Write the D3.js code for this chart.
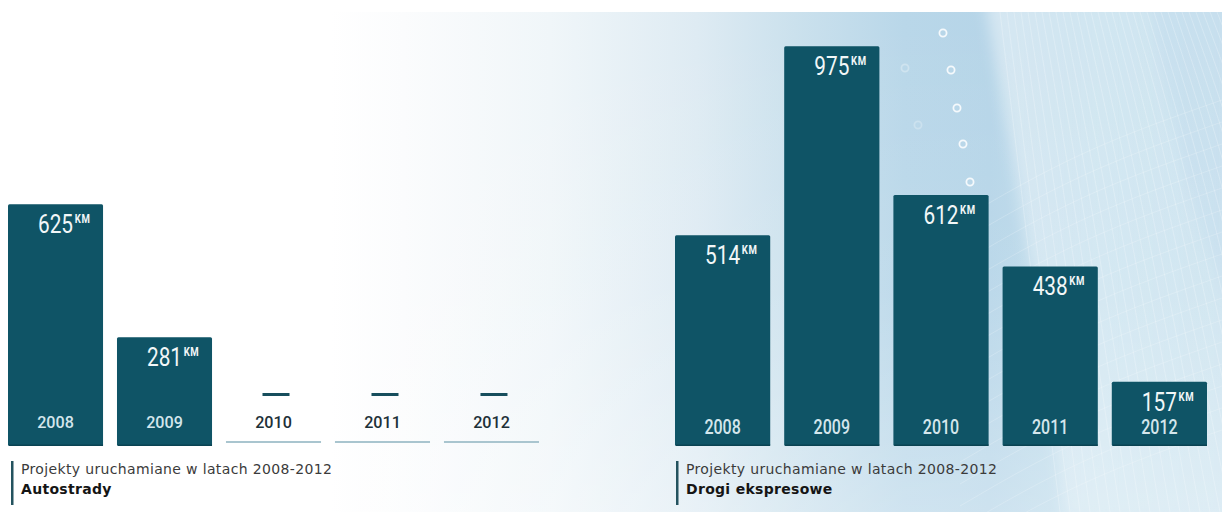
<!DOCTYPE html>
<html>
<head>
<meta charset="utf-8">
<script src="https://cdn.jsdelivr.net/npm/d3@7"></script>
<style>
  html, body { margin: 0; padding: 0; background: #ffffff; }
  svg { display: block; }
</style>
</head>
<body>
<svg id="chart" width="1222" height="512"></svg>
<script>
// Road projects launched 2008-2012, kilometres per year
const years = ["2008", "2009", "2010", "2011", "2012"];
const autostradyKm = [625, 281, null, null, null];
const drogiEkspresoweKm = [514, 975, 612, 438, 157];
const captionText = "Projekty uruchamiane w latach 2008-2012";
const panelTitles = ["Autostrady", "Drogi ekspresowe"];
const unitLabel = "KM";

const W = 1222, H = 512;
const svg = d3.select("#chart");
const defs = svg.append("defs");

// ---- background ----
const bgGrad = defs.append("linearGradient").attr("id", "bgGrad")
  .attr("x1", 0).attr("x2", 1).attr("y1", 0).attr("y2", 0);
[["0%", "#ffffff"], ["27%", "#ffffff"], ["33%", "#fbfcfd"], ["45%", "#f0f6f9"],
 ["57%", "#deebf3"], ["65%", "#cbe1ed"], ["74%", "#b9d7e9"], ["81%", "#b6d5e8"],
 ["90%", "#c3dfed"], ["100%", "#c8e1ee"]]
  .forEach(([o, c]) => bgGrad.append("stop").attr("offset", o).attr("stop-color", c));

const fadeGrad = defs.append("linearGradient").attr("id", "fadeGrad")
  .attr("x1", 0).attr("x2", 0).attr("y1", 0).attr("y2", 1);
[["0%", 0], ["55%", 0.08], ["100%", 0.32]]
  .forEach(([o, a]) => fadeGrad.append("stop").attr("offset", o)
    .attr("stop-color", "#ffffff").attr("stop-opacity", a));

const bandGrad = defs.append("linearGradient").attr("id", "bandGrad")
  .attr("x1", 0).attr("x2", 1).attr("y1", 0).attr("y2", 0);
[["0%", 0.45], ["40%", 0.25], ["100%", 0.1]]
  .forEach(([o, a]) => bandGrad.append("stop").attr("offset", o)
    .attr("stop-color", "#ffffff").attr("stop-opacity", a));

defs.append("filter").attr("id", "soft").attr("x", "-20%").attr("y", "-20%")
  .attr("width", "140%").attr("height", "140%")
  .append("feGaussianBlur").attr("stdDeviation", 7);

svg.append("rect").attr("width", W).attr("height", H).attr("fill", "#ffffff");
svg.append("rect").attr("y", 12).attr("width", W).attr("height", H - 12).attr("fill", "url(#bgGrad)");

// wireframe ornament on the right
const deco = svg.append("g").attr("fill", "none").attr("stroke", "#ffffff");
const curve = d3.line().curve(d3.curveBasis);
deco.append("path")
  .attr("d", "M985,0 C1010,150 1040,300 1065,520 L1230,520 L1230,0 Z")
  .attr("fill", "url(#bandGrad)").attr("stroke", "none").attr("filter", "url(#soft)");
deco.append("path")
  .attr("d", "M1150,0 C1170,120 1190,220 1230,300 L1230,0 Z")
  .attr("fill", "#b9d8ea").attr("fill-opacity", 0.35).attr("stroke", "none")
  .attr("filter", "url(#soft)");
for (let i = 0; i < 34; i++) {
  const x0 = 1000 + i * 7;
  deco.append("path")
    .attr("d", curve([[x0, 12], [x0 + 20 + i * 1.5, 180], [x0 + 60 + i * 3, 512]]))
    .attr("stroke-opacity", 0.3).attr("stroke-width", 0.8);
}
for (let j = 0; j < 16; j++) {
  const y0 = 140 + j * 22;
  deco.append("path")
    .attr("d", curve([[960, y0 + 80], [1080, y0 + 10], [1222, y0 - 40]]))
    .attr("stroke-opacity", 0.25).attr("stroke-width", 0.8);
}
svg.append("rect").attr("y", 12).attr("width", W).attr("height", H - 12).attr("fill", "url(#fadeGrad)");
svg.append("rect").attr("width", W).attr("height", 12).attr("fill", "#ffffff");

// small ring ornaments
const rings = [[943, 33, 0.85], [951, 70, 0.85], [957, 108, 0.85], [963, 144, 0.85],
               [970, 182, 0.85], [905, 68, 0.3], [918, 125, 0.25]];
svg.append("g").selectAll("circle").data(rings).join("circle")
  .attr("cx", d => d[0]).attr("cy", d => d[1]).attr("r", 3.6)
  .attr("fill", "none").attr("stroke", "#ffffff").attr("stroke-width", 1.8)
  .attr("stroke-opacity", d => d[2]);

// ---- panels ----
const baseY = 446;
const panels = [
  { values: autostradyKm, title: panelTitles[0], x0: 8, x1: 539, pxPerKm: 0.387,
    yearSize: 17, yearScale: 0.95, yearY: 428, ruleX: 11 },
  { values: drogiEkspresoweKm, title: panelTitles[1], x0: 675, x1: 1207, pxPerKm: 0.41,
    yearSize: 20, yearScale: 0.8, yearY: 434, ruleX: 676 }
];

const barColor = "#0f5466";
const labelFont = "Roboto, 'DejaVu Sans', sans-serif";
const captionFont = "'DejaVu Sans', Verdana, sans-serif";

panels.forEach(p => {
  const x = d3.scaleBand().domain(years).range([p.x0, p.x1]).paddingInner(0.128).paddingOuter(0);
  const y = d3.scaleLinear().domain([0, 1000]).range([baseY, baseY - 1000 * p.pxPerKm]);
  const rows = years.map((yr, i) => ({ year: yr, km: p.values[i] }));
  const g = svg.append("g");

  const filled = rows.filter(d => d.km != null);
  const empty = rows.filter(d => d.km == null);

  // bars
  g.selectAll("rect.bar").data(filled).join("rect").attr("class", "bar")
    .attr("x", d => x(d.year)).attr("width", x.bandwidth())
    .attr("y", d => y(d.km)).attr("height", d => y(0) - y(d.km))
    .attr("rx", 1.5).attr("fill", barColor);
  // darker bottom edge
  g.selectAll("rect.edge").data(filled).join("rect").attr("class", "edge")
    .attr("x", d => x(d.year) + 1).attr("width", x.bandwidth() - 1)
    .attr("y", y(0) - 1.5).attr("height", 1.5).attr("fill", "#0a4352");

  // value labels: number centred on the bar, unit as superscript after it
  filled.forEach(d => {
    const cx = x(d.year) + x.bandwidth() / 2;
    const lg = g.append("g")
      .attr("transform", `translate(${cx},${y(d.km) + 29}) scale(0.8,1)`);
    const num = lg.append("text").text(d.km)
      .attr("text-anchor", "middle").attr("font-family", labelFont)
      .attr("font-size", 26).attr("fill", "#f2f7f8");
    const w = num.node().getComputedTextLength();
    lg.append("text").text(unitLabel)
      .attr("x", w / 2 + 2).attr("y", -10)
      .attr("font-family", labelFont).attr("font-weight", 700)
      .attr("font-size", 12).attr("letter-spacing", 0.8).attr("fill", "#f2f7f8");
  });

  // empty years: dash marker and baseline
  g.selectAll("rect.dash").data(empty).join("rect").attr("class", "dash")
    .attr("x", d => x(d.year) + x.bandwidth() / 2 - 11).attr("width", 27)
    .attr("y", 393).attr("height", 3).attr("fill", "#174e5d");
  g.selectAll("line.base").data(empty).join("line").attr("class", "base")
    .attr("x1", d => x(d.year)).attr("x2", d => x(d.year) + x.bandwidth())
    .attr("y1", 442).attr("y2", 442)
    .attr("stroke", "#a9c5cf").attr("stroke-width", 2);

  // year labels
  rows.forEach(d => {
    const cx = x(d.year) + x.bandwidth() / 2;
    g.append("g").attr("transform", `translate(${cx},${p.yearY}) scale(${p.yearScale},1)`)
      .append("text").text(d.year)
      .attr("text-anchor", "middle").attr("font-family", labelFont)
      .attr("font-size", p.yearSize).attr("font-weight", 500)
      .attr("fill", d.km != null ? "#d4e6ec" : "#1d3038");
  });

  // caption
  g.append("rect").attr("x", p.ruleX).attr("y", 461).attr("width", 2.5).attr("height", 44)
    .attr("fill", "#24535f");
  g.append("text").text(captionText)
    .attr("x", p.ruleX + 10).attr("y", 474)
    .attr("font-family", captionFont).attr("font-size", 14)
    .attr("letter-spacing", 0.35).attr("fill", "#3b3b3b");
  g.append("text").text(p.title)
    .attr("x", p.ruleX + 10).attr("y", 494)
    .attr("font-family", captionFont).attr("font-size", 14)
    .attr("letter-spacing", 0.3).attr("font-weight", 700).attr("fill", "#151515");
});
</script>
</body>
</html>
